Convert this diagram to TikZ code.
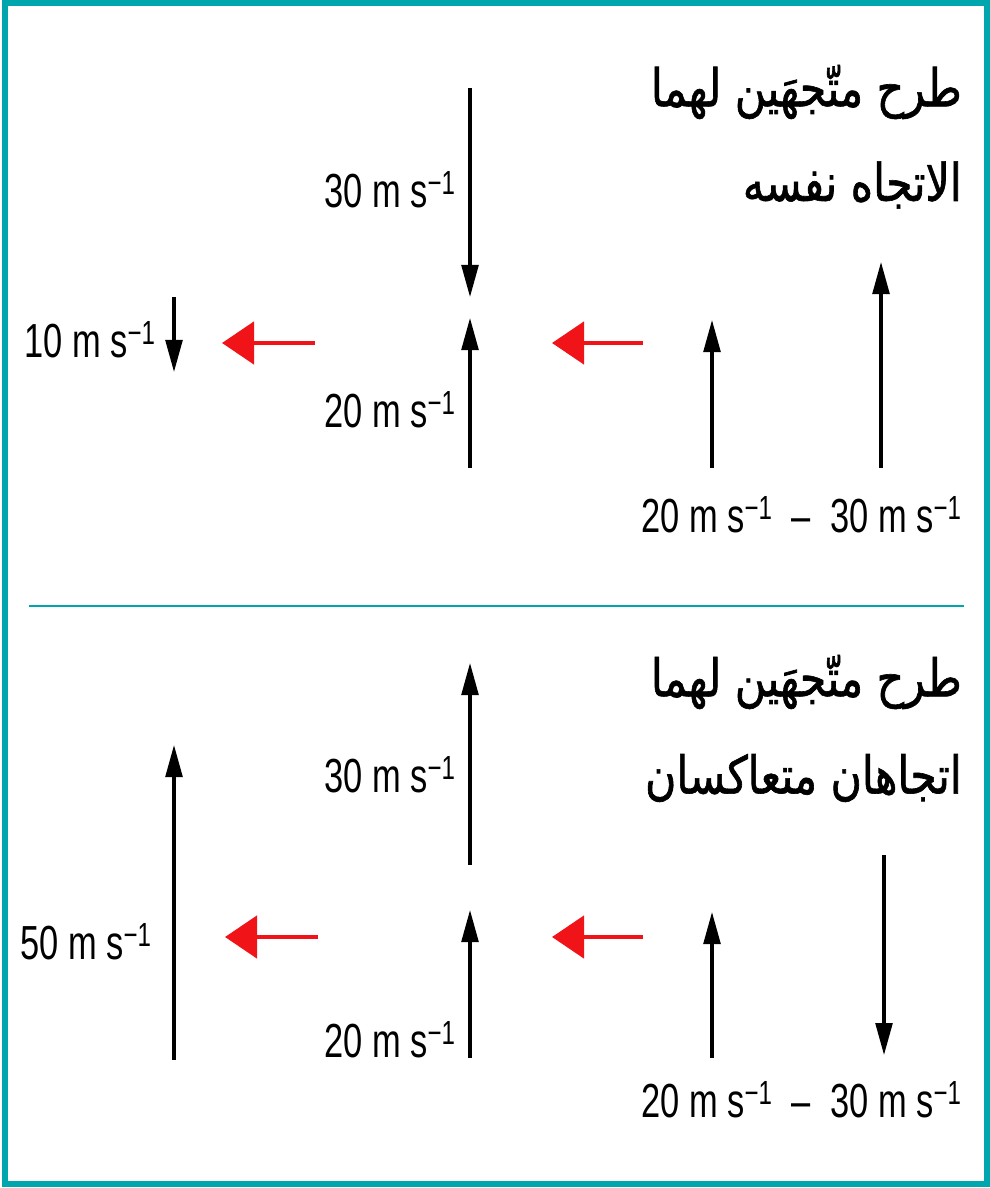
\documentclass[tikz,border=0pt]{standalone}
\usepackage{fontspec}
\setmainfont[FakeStretch=0.72]{Liberation Sans}
\newfontfamily\arabicfont[Script=Arabic, FakeStretch=0.82, FakeBold=1.2]{DejaVu Sans}
\TeXXeTstate=1
\usetikzlibrary{arrows.meta}
\usepackage{xcolor}

\definecolor{frameteal}{RGB}{0,166,174}
\definecolor{arrowred}{RGB}{240,20,24}
\newcommand{\speed}[1]{#1 m s\textsuperscript{−1}}

\begin{document}
\begin{tikzpicture}[x=0.025cm, y=-0.025cm,
    vec/.style={line width=2.2pt, -{Triangle[length=0.8cm, width=0.42cm]}},
    sub/.style={line width=3.4pt, arrowred, -{Triangle[length=0.8cm, width=1.05cm]}},
    lbl/.style={font=\fontsize{34}{40}\selectfont, inner sep=0pt},
    ttl/.style={font=\arabicfont\fontsize{37}{44}\selectfont, inner sep=0pt, anchor=east}]
    \useasboundingbox (0,0) rectangle (990,1188);

    % Frame and separator
    \draw[frameteal, line width=4pt] (5,3) rectangle (987,1184);
    \draw[frameteal, line width=1.8pt] (29,606) -- (964,606);

    % Top panel: same direction
    \node[ttl] (t1) at (962,92) {\beginR طرح متّجهَين لهما\endR};
    \node[ttl] (t2) at (962,185) {\beginR الاتجاه نفسه\endR};

    % Vectors to subtract
    \coordinate (a1) at (881,468);
    \coordinate (a2) at (881,262);
    \coordinate (b1) at (712,468);
    \coordinate (b2) at (712,320);
    \draw[vec] (a1) -- (a2);
    \draw[vec] (b1) -- (b2);
    \node[lbl, anchor=east] (ab) at (962,515) {\speed{20} \ – \ \speed{30}};

    % Reverse and add
    \coordinate (r1) at (643,343);
    \coordinate (r2) at (552,343);
    \draw[sub] (r1) -- (r2);
    \coordinate (c1) at (470,88);
    \coordinate (c2) at (470,297);
    \coordinate (d1) at (470,468);
    \coordinate (d2) at (470,318);
    \draw[vec] (c1) -- (c2);
    \draw[vec] (d1) -- (d2);
    \node[lbl, anchor=east] (cl) at (456,190) {\speed{30}};
    \node[lbl, anchor=east] (dl) at (456,410) {\speed{20}};

    % Result
    \coordinate (s1) at (315,343);
    \coordinate (s2) at (222,343);
    \draw[sub] (s1) -- (s2);
    \coordinate (e1) at (174,297);
    \coordinate (e2) at (174,372);
    \draw[vec] (e1) -- (e2);
    \node[lbl, anchor=east] (el) at (156,340) {\speed{10}};

    % Bottom panel: opposite directions
    \node[ttl] (t3) at (962,682) {\beginR طرح متّجهَين لهما\endR};
    \node[ttl] (t4) at (962,778) {\beginR اتجاهان متعاكسان\endR};

    % Vectors to subtract
    \coordinate (f1) at (884,855);
    \coordinate (f2) at (884,1055);
    \coordinate (g1) at (712,1058);
    \coordinate (g2) at (712,912);
    \draw[vec] (f1) -- (f2);
    \draw[vec] (g1) -- (g2);
    \node[lbl, anchor=east] (fg) at (962,1100) {\speed{20} \ – \ \speed{30}};

    % Reverse and add
    \coordinate (r3) at (643,937);
    \coordinate (r4) at (552,937);
    \draw[sub] (r3) -- (r4);
    \coordinate (h1) at (470,865);
    \coordinate (h2) at (470,663);
    \coordinate (i1) at (470,1058);
    \coordinate (i2) at (470,910);
    \draw[vec] (h1) -- (h2);
    \draw[vec] (i1) -- (i2);
    \node[lbl, anchor=east] (hl) at (456,775) {\speed{30}};
    \node[lbl, anchor=east] (il) at (456,1040) {\speed{20}};

    % Result
    \coordinate (s3) at (318,937);
    \coordinate (s4) at (225,937);
    \draw[sub] (s3) -- (s4);
    \coordinate (j1) at (174,1060);
    \coordinate (j2) at (174,745);
    \draw[vec] (j1) -- (j2);
    \node[lbl, anchor=east] (jl) at (152,942) {\speed{50}};
\end{tikzpicture}
\end{document}
